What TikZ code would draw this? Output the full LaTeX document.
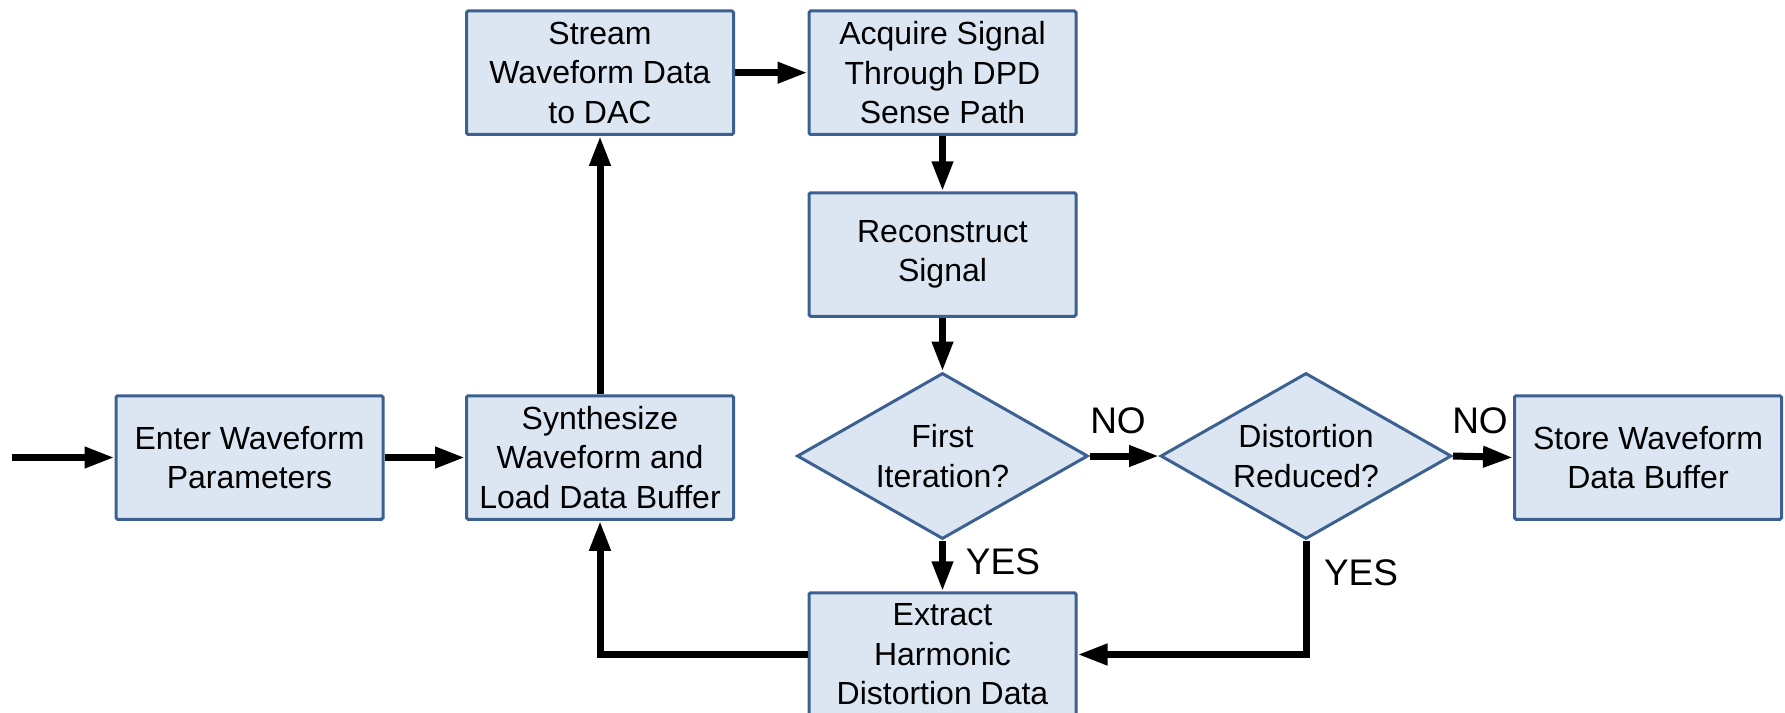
\documentclass[tikz,border=0pt]{standalone}
\usepackage{fontspec}
\setmainfont{Liberation Sans}
\usetikzlibrary{shapes.geometric,arrows.meta}
\definecolor{boxfill}{HTML}{DCE6F2}
\definecolor{boxline}{HTML}{3C6190}
\begin{document}
\begin{tikzpicture}[x=1pt,y=-1pt,
 proc/.style={draw=boxline, fill=boxfill, line width=3pt, rounded corners=1.5pt, minimum width=267pt, minimum height=123.5pt, align=center, inner sep=0pt, font=\fontsize{32}{39.5}\selectfont},
 decide/.style={diamond, draw=boxline, fill=boxfill, line width=3pt, minimum width=291pt, minimum height=166pt, aspect=1.75, inner sep=0pt, align=center, font=\fontsize{32}{39.5}\selectfont},
 flow/.style={line width=7pt, -{Triangle[length=30pt,width=20pt]}},
 lbl/.style={font=\fontsize{37}{40}\selectfont, inner sep=0pt}]
\useasboundingbox (0,0) rectangle (1785,712);
\clip (0,0) rectangle (1785,712);

\node[proc] (enter) at (249.5,457.5) {Enter Waveform\\Parameters};
\node[proc] (synth) at (600,457.5) {Synthesize\\Waveform and\\Load Data Buffer};
\node[proc] (stream) at (600,72.7) {Stream\\Waveform Data\\to DAC};
\node[proc] (acq) at (942.5,72.7) {Acquire Signal\\Through DPD\\Sense Path};
\node[proc] (recon) at (942.5,254.5) {Reconstruct\\Signal};
\node[decide] (first) at (942.5,456) {First\\Iteration?};
\node[decide] (dist) at (1306,456) {Distortion\\Reduced?};
\node[proc] (store) at (1648,457.5) {Store Waveform\\Data Buffer};
\node[proc] (extract) at (942.5,654.5) {Extract\\Harmonic\\Distortion Data};

\coordinate (in) at (12,457.5);

\draw[flow] (in) -- (enter.west);
\draw[flow] (enter.east) -- (synth.west);
\draw[flow] (synth.north) -- (stream.south);
\draw[flow] (stream.east) -- (acq.west);
\draw[flow] (acq.south) -- (recon.north);
\draw[flow] (recon.south) -- (first.north);
\draw[flow] (first.east) -- (dist.west);
\draw[flow] (dist.east) -- (store.west);
\draw[flow] (first.south) -- (extract.north);
\draw[flow] (dist.south) |- (extract.east);
\draw[flow] (extract.west) -| (synth.south);

\node[lbl] (no1) at (1118,421) {NO};
\node[lbl] (no2) at (1480,421) {NO};
\node[lbl] (yes1) at (1003,562) {YES};
\node[lbl] (yes2) at (1361,573) {YES};
\end{tikzpicture}
\end{document}
